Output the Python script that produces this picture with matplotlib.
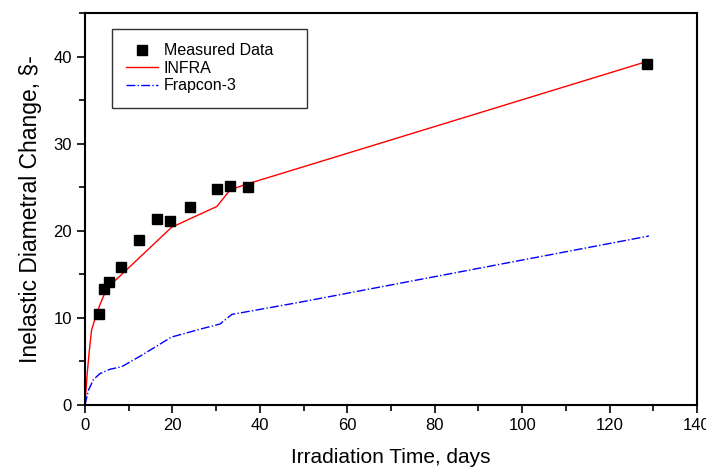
import matplotlib
matplotlib.use("Agg")
import matplotlib.pyplot as plt
from matplotlib.ticker import MultipleLocator

plt.rcParams['font.family'] = ['Liberation Sans', 'DejaVu Sans']

meas_x = [3.2, 4.3, 5.4, 8.2, 12.4, 16.5, 19.4, 24.0, 30.2, 33.2, 37.2, 128.6]
meas_y = [10.5, 13.3, 14.1, 15.8, 18.9, 21.4, 21.1, 22.7, 24.8, 25.1, 25.0, 39.2]

infra_x = [0, 0.5, 1.0, 1.5, 2.3, 3.4, 5.0, 8.2, 19.8, 30.2, 33.2, 37.3, 129.0]
infra_y = [0, 3.6, 6.3, 8.6, 9.9, 11.5, 13.4, 14.9, 20.4, 22.8, 24.7, 25.4, 39.5]

frap_x = [0, 0.8, 1.9, 3.4, 5.7, 8.4, 12.6, 19.8, 26.3, 30.9, 33.6, 49.2, 129.0]
frap_y = [0, 1.7, 2.9, 3.6, 4.1, 4.4, 5.6, 7.8, 8.7, 9.3, 10.4, 11.8, 19.4]

fig = plt.figure(figsize=(7.06, 4.68), dpi=100)
ax = fig.add_axes([85/706, 63/468, 612/706, 392/468])

ax.plot(meas_x, meas_y, 's', color='black', ms=7.5, label='Measured Data', zorder=3)
ax.plot(infra_x, infra_y, '-', color='red', lw=1.0, label='INFRA')
ax.plot(frap_x, frap_y, '-.', color='blue', lw=1.0, label='Frapcon-3')

ax.set_xlim(0, 140)
ax.set_ylim(0, 45)
ax.xaxis.set_major_locator(MultipleLocator(20))
ax.xaxis.set_minor_locator(MultipleLocator(10))
ax.yaxis.set_major_locator(MultipleLocator(10))
ax.yaxis.set_minor_locator(MultipleLocator(5))
ax.tick_params(which='both', direction='out', top=False, right=False, width=1.2, labelsize=12)
ax.tick_params(which='major', length=6)
ax.tick_params(which='minor', length=4)
for s in ax.spines.values():
    s.set_linewidth(1.5)

ax.set_xlabel('Irradiation Time, days', fontsize=15, labelpad=11)
ax.set_ylabel('Inelastic Diametral Change, §-', fontsize=16.5, labelpad=8)

leg = ax.legend(loc='upper left', bbox_to_anchor=(27/612, 1 - 16/392, 195/612, 0.0),
                mode='expand', borderaxespad=0, fontsize=11.5,
                frameon=True, fancybox=False, edgecolor='black', handlelength=2.0,
                handletextpad=0.35, borderpad=0.9, labelspacing=0.15)
leg.get_frame().set_linewidth(1.0)

fig.savefig('out.png', dpi=100)
